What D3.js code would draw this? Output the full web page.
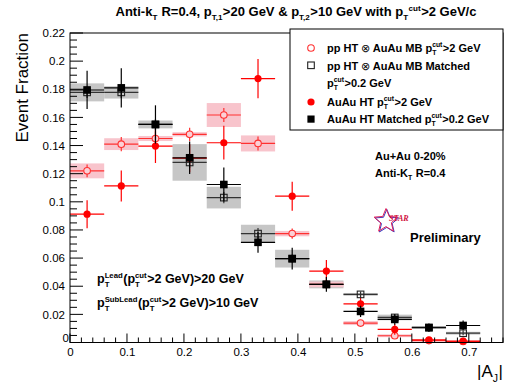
<!DOCTYPE html>
<html>
<head>
<meta charset="utf-8">
<script src="https://cdn.jsdelivr.net/npm/d3@7"></script>
<style>
  body { margin: 0; background: #fff; }
  svg { font-family: "Liberation Sans", Helvetica, Arial, sans-serif; }
  svg text { white-space: pre; }
</style>
</head>
<body>
<svg id="chart" width="508" height="385"></svg>
<script>
// bins in |A_J|, width 0.06
const binCenters = [0.03, 0.09, 0.15, 0.21, 0.27, 0.33, 0.39, 0.45, 0.51, 0.57, 0.63, 0.69];
const binHalf = 0.03;

// pp HT (x) AuAu MB, pT cut > 2 GeV  (open red circles)
const ppMB2 = [0.122, 0.141, 0.145, 0.148, 0.1617, 0.1415, 0.0774, 0.0413, 0.0138, 0.0048, 0.0014, 0.0007];
const ppMB2Err = [0.0045, 0.005, 0.005, 0.0047, 0.005, 0.005, 0.0036, 0.003, 0.0015, 0.001, 0.0005, 0.0005];
const ppMB2Sys = [0.0053, 0.0042, 0.0018, 0.0015, 0.0085, 0.0057, 0.0019, 0.002, 0.0014, 0.001, 0.0005, 0.0005];

// pp HT (x) AuAu MB Matched, pT cut > 0.2 GeV  (open squares)
const ppMBMatched = [0.1778, 0.1778, 0.155, 0.128, 0.103, 0.0774, 0.0596, 0.0413, 0.0342, 0.0178, 0.0107, 0.0066];
const ppMBMatchedErr = [0.004, 0.004, 0.004, 0.004, 0.004, 0.004, 0.003, 0.003, 0.002, 0.002, 0.0015, 0.0015];
const ppMBMatchedSys = [0.0064, 0.0044, 0.0028, 0.013, 0.0077, 0.0063, 0.0063, 0.0028, 0.001, 0.002, 0.001, 0.001];

// AuAu HT, pT cut > 2 GeV  (filled red circles)
const auauHT2 = [0.0912, 0.1113, 0.1396, 0.131, 0.142, 0.1876, 0.104, 0.0508, 0.0275, 0.0093, 0.0019, 0.001];
const auauHT2Err = [0.0099, 0.011, 0.012, 0.010, 0.012, 0.0139, 0.0103, 0.0078, 0.005, 0.0038, 0.001, 0.0008];

// AuAu HT Matched, pT cut > 0.2 GeV  (filled black squares)
const auauMatched = [0.1795, 0.181, 0.155, 0.1313, 0.1123, 0.0712, 0.0596, 0.0413, 0.0221, 0.0164, 0.0105, 0.0121];
const auauMatchedErr = [0.0136, 0.0139, 0.0136, 0.0116, 0.0121, 0.0074, 0.0077, 0.0053, 0.004, 0.0038, 0.003, 0.0035];

const xTicks = [0, 0.1, 0.2, 0.3, 0.4, 0.5, 0.6, 0.7];
const yTicks = [0, 0.02, 0.04, 0.06, 0.08, 0.1, 0.12, 0.14, 0.16, 0.18, 0.2, 0.22];

const frame = { left: 70, right: 503, top: 33, bottom: 342.5 };

const x = d3.scaleLinear().domain([0, 0.76]).range([frame.left, frame.right]);
const y = d3.scaleLinear().domain([0, 0.22]).range([frame.bottom, frame.top]);

const svg = d3.select('#chart');

// text with sub/superscripts, pieces measured one after another
function rich(g, x0, y0, parts, size, opts = {}) {
  const grp = g.append('g')
    .attr('font-size', size)
    .attr('font-weight', opts.bold ? 'bold' : 'normal')
    .attr('fill', opts.fill || '#000');
  let cx = x0;
  parts.forEach((p) => {
    if (typeof p === 'string') {
      const t = grp.append('text').attr('x', cx).attr('y', y0).text(p);
      cx += t.node().getComputedTextLength();
    } else if (p.sym) {
      const t = grp.append('text').attr('x', cx).attr('y', y0).attr('font-weight', 'normal').text(p.sym);
      cx += t.node().getComputedTextLength();
    } else {
      let w = 0;
      if (p.sup) {
        const t = grp.append('text').attr('x', cx).attr('y', y0 - size * 0.42)
          .attr('font-size', size * 0.62).text(p.sup);
        w = Math.max(w, t.node().getComputedTextLength());
      }
      if (p.sub) {
        const t = grp.append('text').attr('x', cx).attr('y', y0 + size * 0.3)
          .attr('font-size', size * 0.62).text(p.sub);
        w = Math.max(w, t.node().getComputedTextLength());
      }
      cx += w + 0.5;
    }
  });
  const width = cx - x0;
  if (opts.anchor === 'middle') grp.attr('transform', `translate(${-width / 2},0)`);
  if (opts.anchor === 'end') grp.attr('transform', `translate(${-width},0)`);
  return grp;
}

// Title
rich(svg, 296, 16, ['Anti-k', { sub: 'T' }, ' R=0.4, p', { sub: 'T,1' }, '>20 GeV & p', { sub: 'T,2' },
  '>10 GeV with p', { sub: 'T' }, { sup: 'cut' }, '>2 GeV/c'], 13, { bold: true, anchor: 'middle' });

const plot = svg.append('g');

// systematic boxes
plot.append('g').selectAll('rect')
  .data(binCenters)
  .join('rect')
  .attr('x', (d) => x(d - binHalf))
  .attr('width', (d) => x(d + binHalf) - x(d - binHalf))
  .attr('y', (d, i) => y(ppMBMatched[i] + ppMBMatchedSys[i]))
  .attr('height', (d, i) => y(ppMBMatched[i] - ppMBMatchedSys[i]) - y(ppMBMatched[i] + ppMBMatchedSys[i]))
  .attr('fill', '#c6c6c6');

plot.append('g').selectAll('rect')
  .data(binCenters)
  .join('rect')
  .attr('x', (d) => x(d - binHalf))
  .attr('width', (d) => x(d + binHalf) - x(d - binHalf))
  .attr('y', (d, i) => y(ppMB2[i] + ppMB2Sys[i]))
  .attr('height', (d, i) => y(ppMB2[i] - ppMB2Sys[i]) - y(ppMB2[i] + ppMB2Sys[i]))
  .attr('fill', '#f8c4cc');

function errors(vals, errs, color, width) {
  const g = plot.append('g').attr('stroke', color).attr('stroke-width', width);
  g.selectAll('line.h')
    .data(binCenters)
    .join('line')
    .attr('class', 'h')
    .attr('x1', (d) => x(d - binHalf))
    .attr('x2', (d) => x(d + binHalf))
    .attr('y1', (d, i) => y(vals[i]))
    .attr('y2', (d, i) => y(vals[i]));
  g.selectAll('line.v')
    .data(binCenters)
    .join('line')
    .attr('class', 'v')
    .attr('x1', (d) => x(d))
    .attr('x2', (d) => x(d))
    .attr('y1', (d, i) => y(vals[i] - errs[i]))
    .attr('y2', (d, i) => y(vals[i] + errs[i]));
  return g;
}

// open circles
errors(ppMB2, ppMB2Err, '#ff3030', 1.2);
plot.append('g').selectAll('circle')
  .data(binCenters)
  .join('circle')
  .attr('cx', (d) => x(d))
  .attr('cy', (d, i) => y(ppMB2[i]))
  .attr('r', 3.3)
  .attr('fill', '#fbd0d6')
  .attr('stroke', '#ff3030')
  .attr('stroke-width', 1.1);

// filled red circles
errors(auauHT2, auauHT2Err, '#ff0000', 1.2);
plot.append('g').selectAll('circle')
  .data(binCenters)
  .join('circle')
  .attr('cx', (d) => x(d))
  .attr('cy', (d, i) => y(auauHT2[i]))
  .attr('r', 3.6)
  .attr('fill', '#ff0000');

// open squares
errors(ppMBMatched, ppMBMatchedErr, '#333', 1.2);
plot.append('g').selectAll('rect')
  .data(binCenters)
  .join('rect')
  .attr('x', (d) => x(d) - 3.3)
  .attr('y', (d, i) => y(ppMBMatched[i]) - 3.3)
  .attr('width', 6.6)
  .attr('height', 6.6)
  .attr('fill', 'none')
  .attr('stroke', '#222')
  .attr('stroke-width', 1.1);

// filled black squares
errors(auauMatched, auauMatchedErr, '#000', 1.2);
plot.append('g').selectAll('rect')
  .data(binCenters)
  .join('rect')
  .attr('x', (d) => x(d) - 3.8)
  .attr('y', (d, i) => y(auauMatched[i]) - 3.8)
  .attr('width', 7.6)
  .attr('height', 7.6)
  .attr('fill', '#000');

// frame
svg.append('rect')
  .attr('x', frame.left).attr('y', frame.top)
  .attr('width', frame.right - frame.left).attr('height', frame.bottom - frame.top)
  .attr('fill', 'none').attr('stroke', '#000').attr('stroke-width', 1);

// Y axis, ROOT style ticks pointing inward
const yMinor = d3.range(0, 0.2201, 0.005);
svg.append('g').selectAll('line')
  .data(yMinor)
  .join('line')
  .attr('x1', frame.left)
  .attr('x2', (d, i) => frame.left + (i % 4 === 0 ? 13 : 7))
  .attr('y1', (d) => y(d)).attr('y2', (d) => y(d))
  .attr('stroke', '#000');

svg.append('g')
  .attr('transform', `translate(${frame.left},0)`)
  .call(d3.axisLeft(y).tickValues(yTicks).tickSize(0).tickPadding(5).tickFormat((d) => d3.format('')(+d.toFixed(2))))
  .call((g) => g.select('.domain').remove())
  .call((g) => g.selectAll('text')
    .attr('font-size', 11.5)
    .attr('font-family', '"Liberation Sans", Helvetica, Arial, sans-serif')
    .attr('fill', '#000'))
  .call((g) => g.selectAll('.tick').filter((d) => d === 0).select('text').attr('dy', '-0.1em').attr('x', -1));

// X axis
const xMinor = d3.range(0, 0.7601, 0.02);
svg.append('g').selectAll('line')
  .data(xMinor)
  .join('line')
  .attr('x1', (d) => x(d)).attr('x2', (d) => x(d))
  .attr('y1', frame.bottom)
  .attr('y2', (d, i) => frame.bottom - (i % 5 === 0 ? 9 : 5))
  .attr('stroke', '#000');

svg.append('g')
  .attr('transform', `translate(0,${frame.bottom})`)
  .call(d3.axisBottom(x).tickValues(xTicks).tickSize(0).tickPadding(5).tickFormat((d) => d3.format('')(+d.toFixed(1))))
  .call((g) => g.select('.domain').remove())
  .call((g) => g.selectAll('text')
    .attr('font-size', 11.5)
    .attr('font-family', '"Liberation Sans", Helvetica, Arial, sans-serif')
    .attr('fill', '#000'));

// axis titles
svg.append('text')
  .attr('transform', `translate(28,${frame.top}) rotate(-90)`)
  .attr('text-anchor', 'end')
  .attr('font-size', 17)
  .text('Event Fraction');

rich(svg, 503, 377, ['|A', { sub: 'J' }, '|'], 17, { anchor: 'end' });

// legend
const legend = svg.append('g');
legend.append('rect')
  .attr('x', 290).attr('y', 29).attr('width', 213).attr('height', 101)
  .attr('fill', '#fff').attr('stroke', '#000').attr('stroke-width', 1);

const lx = 311, tx = 327;
legend.append('circle').attr('cx', lx).attr('cy', 48).attr('r', 3.3)
  .attr('fill', 'none').attr('stroke', '#ff3030').attr('stroke-width', 1.1);
rich(legend, tx, 52, ['pp HT ', { sym: '\u2297' }, ' AuAu MB p', { sup: 'cut', sub: 'T' }, '>2 GeV'], 11, { bold: true });

legend.append('rect').attr('x', lx - 3.3).attr('y', 62).attr('width', 6.6).attr('height', 6.6)
  .attr('fill', 'none').attr('stroke', '#222').attr('stroke-width', 1.1);
rich(legend, tx, 70, ['pp HT ', { sym: '\u2297' }, ' AuAu MB Matched'], 11, { bold: true });
rich(legend, tx, 87, ['p', { sup: 'cut', sub: 'T' }, '>0.2 GeV'], 11, { bold: true });

legend.append('circle').attr('cx', lx).attr('cy', 102).attr('r', 3.6).attr('fill', '#ff0000');
rich(legend, tx, 106, ['AuAu HT p', { sup: 'cut', sub: 'T' }, '>2 GeV'], 11, { bold: true });

legend.append('rect').attr('x', lx - 3.6).attr('y', 115.5).attr('width', 7.2).attr('height', 7.2).attr('fill', '#000');
rich(legend, tx, 123, ['AuAu HT Matched p', { sup: 'cut', sub: 'T' }, '>0.2 GeV'], 11, { bold: true });

// annotations
rich(svg, 375, 160, ['Au+Au 0-20%'], 11, { bold: true });
rich(svg, 375, 177, ['Anti-K', { sub: 'T' }, ' R=0.4'], 11, { bold: true });

rich(svg, 97, 283, ['p', { sup: 'Lead', sub: 'T' }, '(p', { sup: 'cut', sub: 'T' }, '>2 GeV)>20 GeV'], 12.5, { bold: true });
rich(svg, 97, 307, ['p', { sup: 'SubLead', sub: 'T' }, '(p', { sup: 'cut', sub: 'T' }, '>2 GeV)>10 GeV'], 12.5, { bold: true });

// STAR logo
const starPts = d3.range(10).map((i) => {
  const a = -Math.PI / 2 + i * Math.PI / 5;
  const r = i % 2 === 0 ? 12.5 : 5.6;
  return [Math.cos(a) * r, Math.sin(a) * r];
});
const logo = svg.append('g').attr('transform', 'translate(386,221)');
logo.append('path')
  .attr('d', d3.line()(starPts) + 'Z')
  .attr('transform', 'translate(0.8,0.8)')
  .attr('fill', 'none').attr('stroke', '#3a3ac0').attr('stroke-width', 1);
logo.append('path')
  .attr('d', d3.line()(starPts) + 'Z')
  .attr('fill', 'none').attr('stroke', '#e0205a').attr('stroke-width', 1);
logo.append('text')
  .attr('x', 3).attr('y', 0)
  .attr('font-family', '"Liberation Serif", "DejaVu Serif", serif')
  .attr('font-style', 'italic').attr('font-weight', 'bold')
  .attr('font-size', 8).attr('fill', '#d01040')
  .text('STAR');

rich(svg, 410, 242, ['Preliminary'], 13, { bold: true });
</script>
</body>
</html>
